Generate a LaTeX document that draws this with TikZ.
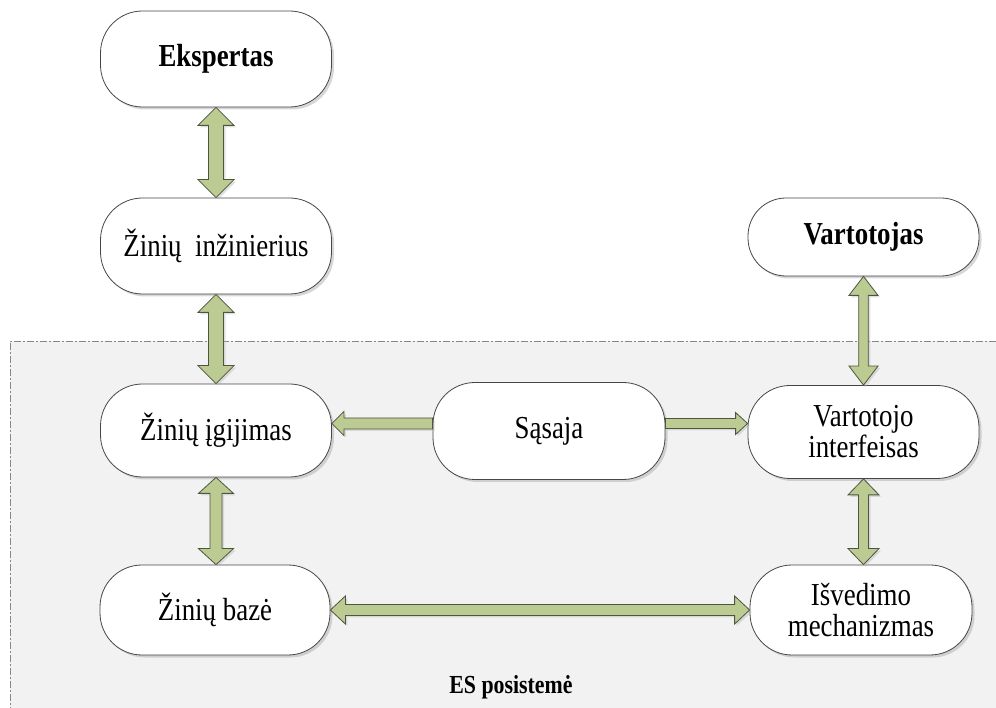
\documentclass[tikz,border=0pt]{standalone}
\usepackage{fontspec}
\setmainfont{Liberation Serif}[FakeStretch=0.84]
\usetikzlibrary{calc,shadows}

\definecolor{arrowfill}{RGB}{188,203,146}
\definecolor{arrowline}{RGB}{78,84,66}
\definecolor{panelfill}{RGB}{242,242,242}
\definecolor{panelline}{RGB}{135,135,135}
\definecolor{boxline}{RGB}{70,70,70}

\tikzset{
  softshadow/.style={drop shadow={shadow xshift=2.5pt, shadow yshift=-2.5pt, fill=black!35, opacity=0.45}},
  pill/.style={draw=boxline, line width=0.8pt, fill=white, rounded corners=42pt,
    minimum width=231pt, minimum height=96pt, inner sep=0pt, align=center,
    font=\fontsize{32}{31}\selectfont, softshadow},
  blockarrow/.style={draw=arrowline, line width=0.8pt, fill=arrowfill, line join=miter,
    drop shadow={shadow xshift=2pt, shadow yshift=-2pt, fill=black!30, opacity=0.4}},
  panel/.style={draw=panelline, line width=0.7pt,
    dash pattern=on 7pt off 2pt on 2pt off 2pt},
}

% vertical double block arrow: #1 upper node, #2 lower node,
% #3 half shaft width, #4 half head width, #5 head length
\newcommand{\vdblarrow}[5]{%
  \draw[blockarrow] let \p1=(#1.south), \p2=(#2.north) in
    (\x1,\y1) -- (\x1+#4,\y1-#5) -- (\x1+#3,\y1-#5) -- (\x1+#3,\y2+#5)
    -- (\x1+#4,\y2+#5) -- (\x1,\y2) -- (\x1-#4,\y2+#5) -- (\x1-#3,\y2+#5)
    -- (\x1-#3,\y1-#5) -- (\x1-#4,\y1-#5) -- cycle;}

% horizontal double block arrow: #1 left node, #2 right node
\newcommand{\hdblarrow}[5]{%
  \draw[blockarrow] let \p1=(#1.east), \p2=(#2.west) in
    (\x1,\y1) -- (\x1+#5,\y1+#4) -- (\x1+#5,\y1+#3) -- (\x2-#5,\y1+#3)
    -- (\x2-#5,\y1+#4) -- (\x2,\y1) -- (\x2-#5,\y1-#4) -- (\x2-#5,\y1-#3)
    -- (\x1+#5,\y1-#3) -- (\x1+#5,\y1-#4) -- cycle;}

% single block arrow pointing right: from #1 (east) to #2 (west), raised by #6
\newcommand{\rightarrowblk}[6]{%
  \draw[blockarrow] let \p1=($(#1.east)+(0,#6)$), \p2=(#2.west) in
    (\x1,\y1+#3) -- (\x2-#5,\y1+#3) -- (\x2-#5,\y1+#4) -- (\x2,\y1)
    -- (\x2-#5,\y1-#4) -- (\x2-#5,\y1-#3) -- (\x1,\y1-#3) -- cycle;}

% single block arrow pointing left: from #1 (west) to #2 (east), raised by #6
\newcommand{\leftarrowblk}[6]{%
  \draw[blockarrow] let \p1=($(#1.west)+(0,#6)$), \p2=(#2.east) in
    (\x1,\y1+#3) -- (\x2+#5,\y1+#3) -- (\x2+#5,\y1+#4) -- (\x2,\y1)
    -- (\x2+#5,\y1-#4) -- (\x2+#5,\y1-#3) -- (\x1,\y1-#3) -- cycle;}

\begin{document}
\begin{tikzpicture}[x=1pt, y=1pt]
  \useasboundingbox (0,0) rectangle (996,707);

  % expert-system subsystem panel
  \fill[panelfill] (10,-20) rectangle (1010,366);
  \draw[panel] (10,-20) -- (10,366) -- (1010,366);
  \node[font=\fontsize{26}{28}\selectfont\bfseries] (label) at (511,20) {ES posistemė};

  % boxes
  \node[pill] (exp) at (216,648) {\bfseries Ekspertas};
  \node[pill] (ing) at (216,461) {Žinių\ \ inžinierius};
  \node[pill, minimum height=93pt] (acq) at (216,276.5) {Žinių įgijimas};
  \node[pill, minimum width=230pt, minimum height=90pt] (kb) at (215,97) {Žinių bazė};
  \node[pill, minimum height=78pt, rounded corners=38pt] (usr) at (863.5,470) {\bfseries Vartotojas};
  \node[pill, minimum height=93pt] (ui) at (863.5,275) {Vartotojo\\interfeisas};
  \node[pill, minimum width=222pt, minimum height=90pt] (inf) at (861,97) {Išvedimo\\mechanizmas};
  \node[pill, minimum width=232pt, minimum height=97pt] (ifc) at (549,276) {Sąsaja};

  % connectors
  \vdblarrow{exp}{ing}{7.5pt}{18pt}{18pt}
  \vdblarrow{ing}{acq}{7.5pt}{18pt}{18pt}
  \vdblarrow{acq}{kb}{6pt}{17.5pt}{16pt}
  \vdblarrow{usr}{ui}{4.8pt}{14.5pt}{19pt}
  \vdblarrow{ui}{inf}{5pt}{15.5pt}{16pt}
  \hdblarrow{kb}{inf}{5.5pt}{14pt}{15pt}
  \leftarrowblk{ifc}{acq}{5.5pt}{12pt}{12pt}{7.5pt}
  \rightarrowblk{ifc}{ui}{5pt}{11pt}{12pt}{7.5pt}
\end{tikzpicture}
\end{document}
